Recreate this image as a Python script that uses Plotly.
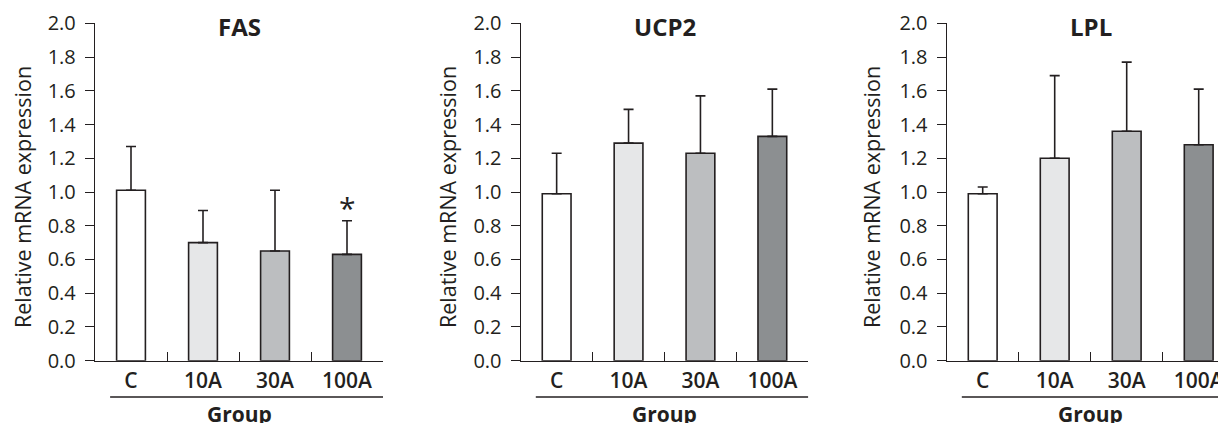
import plotly.graph_objects as go

categories = ["C", "10A", "30A", "100A"]
fas_mean = [1.01, 0.70, 0.65, 0.63]
fas_sd = [0.26, 0.19, 0.36, 0.20]
ucp2_mean = [0.99, 1.29, 1.23, 1.33]
ucp2_sd = [0.24, 0.20, 0.34, 0.28]
lpl_mean = [0.99, 1.20, 1.36, 1.28]
lpl_sd = [0.04, 0.49, 0.41, 0.33]
panel_titles = ["FAS", "UCP2", "LPL"]
y_ticks = [0.0, 0.2, 0.4, 0.6, 0.8, 1.0, 1.2, 1.4, 1.6, 1.8, 2.0]
significant = [[False, False, False, True], [False] * 4, [False] * 4]

bar_colors = ["#ffffff", "#e6e7e8", "#bcbec0", "#8c8f91"]
INK = "#231f20"
FONT = "Open Sans"
OFF = 8  # page body margin
W, H = 1226 - OFF, 423 - OFF


def px_x(p):
    return (p - OFF) / W


def px_y(p):
    return 1 - (p - OFF) / H


panels = [(fas_mean, fas_sd), (ucp2_mean, ucp2_sd), (lpl_mean, lpl_sd)]
# reference pixel positions of y-axis line and axis end
x_px = [(95, 383), (520.7, 808.3), (946.7, 1226)]
x_ranges = [[-0.5, 3.5], [-0.5, 3.5], [-0.5, 3.5 - (1234.7 - 1226) / 72]]
ytitle_px = [22, 447, 871]
y_dom = [px_y(360.7), px_y(23.3)]

fig = go.Figure()
for i, (mean, sd) in enumerate(panels):
    n = "" if i == 0 else str(i + 1)
    fig.add_trace(go.Bar(
        x=categories, y=mean,
        xaxis="x" + n, yaxis="y" + n,
        width=0.4,
        marker=dict(color=bar_colors, line=dict(color=INK, width=1.6)),
        error_y=dict(type="data", symmetric=False, array=sd,
                     arrayminus=[0] * len(sd), color=INK, thickness=1.6, width=5),
        showlegend=False, hoverinfo="skip",
    ))
    fig.update_layout({
        "xaxis" + n: dict(
            domain=[px_x(x_px[i][0]), min(1, px_x(x_px[i][1]))], range=x_ranges[i],
            type="category", anchor="y" + n, showline=True, linecolor=INK, linewidth=1.4,
            ticks="inside", tickson="boundaries", ticklen=9, tickcolor=INK, tickwidth=1.4,
            tickfont=dict(family=FONT, size=21, color=INK, weight=600),
            ticklabelstandoff=1,
            showgrid=False, zeroline=False, automargin=False, fixedrange=True,
        ),
        "yaxis" + n: dict(
            domain=y_dom, range=[0, 2], anchor="x" + n,
            tickvals=y_ticks, ticktext=[f"{v:.1f}" for v in y_ticks],
            showline=True, linecolor=INK, linewidth=1.4,
            ticks="outside", ticklen=9, tickcolor=INK, tickwidth=1.4,
            tickfont=dict(family=FONT, size=20, color=INK),
            ticklabelstandoff=5,
            showgrid=False, zeroline=False, automargin=False, fixedrange=True,
        ),
    })
    xr = "x" + n
    fig.add_annotation(text="<b>" + panel_titles[i] + "</b>", xref=xr, yref="paper",
                       x=1.5, y=px_y(27), yanchor="middle", showarrow=False,
                       font=dict(family=FONT, size=24, color=INK))
    fig.add_annotation(text="<b>Group</b>", xref=xr, yref="paper",
                       x=1.5, y=px_y(414), yanchor="middle", showarrow=False,
                       font=dict(family=FONT, size=21, color=INK))
    fig.add_annotation(text="Relative mRNA expression", xref="paper", yref="paper",
                       x=px_x(ytitle_px[i]), y=px_y(197), textangle=-90,
                       xanchor="center", yanchor="middle", showarrow=False,
                       font=dict(family=FONT, size=21.5, color=INK))
    fig.add_shape(type="line", xref=xr, yref="paper", x0=-0.29, x1=3.5,
                  y0=px_y(397), y1=px_y(397), line=dict(color=INK, width=1.4))
    for j, sig in enumerate(significant[i]):
        if sig:
            fig.add_annotation(text="*", xref=xr, yref="y" + n, x=categories[j],
                               y=mean[j] + sd[j], yanchor="bottom", yshift=-9,
                               showarrow=False, font=dict(family=FONT, size=30, color=INK))

fig.update_layout(width=W, height=H, margin=dict(l=0, r=0, t=0, b=0),
                  paper_bgcolor="white", plot_bgcolor="white", bargap=0.6)
fig.write_html("out.html")
